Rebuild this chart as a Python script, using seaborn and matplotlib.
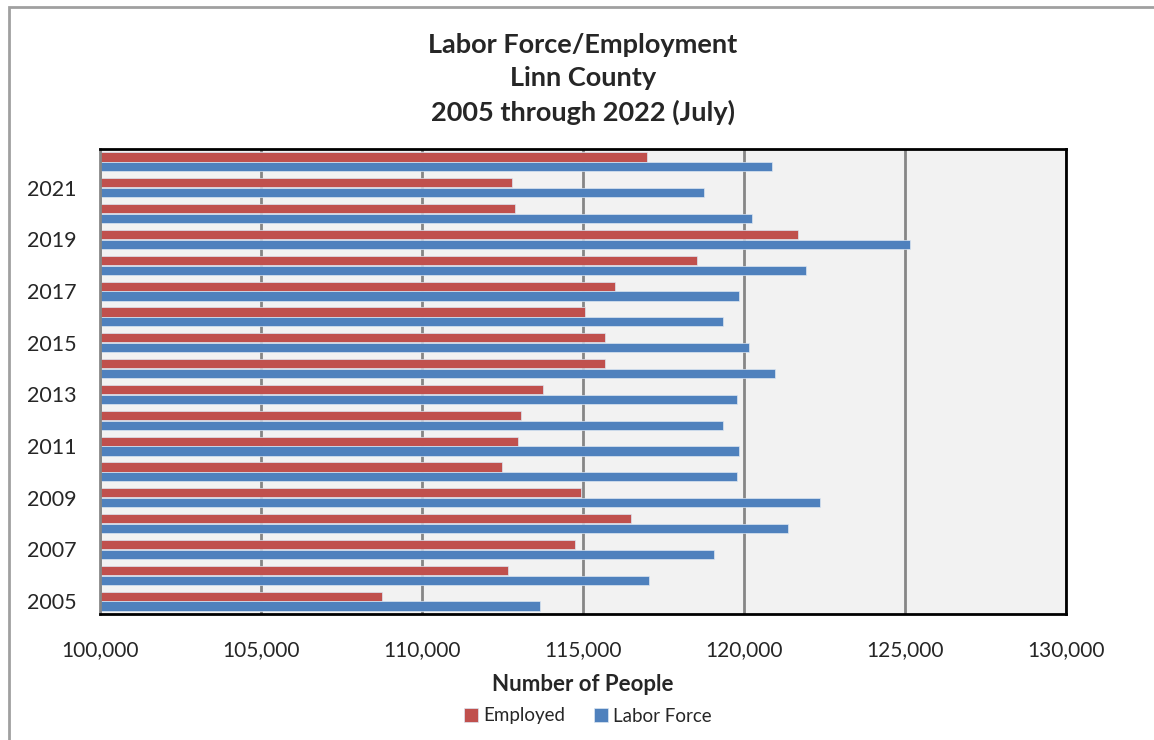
import matplotlib
matplotlib.use("Agg")
import matplotlib.pyplot as plt
import matplotlib.patches as mpatches
import matplotlib.ticker as mticker
import seaborn as sns
import pandas as pd

years = [2005, 2006, 2007, 2008, 2009, 2010, 2011, 2012, 2013,
         2014, 2015, 2016, 2017, 2018, 2019, 2020, 2021, 2022]
employed = [108760, 112660, 114760, 116480, 114950, 112470, 112970, 113080, 113770,
            115680, 115680, 115070, 115990, 118550, 121680, 112880, 112780, 116980]
labor_force = [113650, 117050, 119070, 121370, 122360, 119770, 119840, 119340, 119770,
               120950, 120140, 119340, 119840, 121940, 125150, 120260, 118770, 120870]
series_names = ["Employed", "Labor Force"]
colors = ["#C0504D", "#4F81BD"]
x_ticks = [100000, 105000, 110000, 115000, 120000, 125000, 130000]

df = pd.DataFrame({
    "Year": [str(y) for y in years] * 2,
    "Value": employed + labor_force,
    "Series": [series_names[0]] * len(years) + [series_names[1]] * len(years),
})
order = [str(y) for y in reversed(years)]

sns.set_style("white")
plt.rcParams["font.family"] = ["Lato", "DejaVu Sans"]

fig = plt.figure(figsize=(11.54, 7.4), dpi=100)
ax = fig.add_axes([100/1154, 1-614/740, (1066-100)/1154, (614-149)/740])

sns.barplot(data=df, x="Value", y="Year", hue="Series", order=order,
            hue_order=series_names, palette=colors, orient="h",
            width=0.76, gap=0.06, ax=ax, legend=True,
            edgecolor="#DCE6F2", linewidth=0.5, saturation=1)

ax.set_xlim(100000, 130000)
ax.set_facecolor("#F2F2F2")
ax.set_xticks(x_ticks)
ax.xaxis.set_major_formatter(mticker.FuncFormatter(lambda v, p: f"{int(v):,}"))
ax.tick_params(axis="x", length=0, pad=19, labelsize=15)
ax.tick_params(axis="y", length=0, pad=17, labelsize=15.5)
labels = [t if int(t) % 2 == 1 else "" for t in order]
ax.set_yticks(range(len(order)))
ax.set_yticklabels(labels)
ax.set_ylabel("")
ax.set_xlabel("Number of People", fontsize=16, fontweight="bold", labelpad=10)
ax.grid(axis="x", color="#868686", linewidth=2)
ax.set_axisbelow(True)
for s in ["top", "right", "bottom"]:
    ax.spines[s].set_color("black")
    ax.spines[s].set_linewidth(2)
    ax.spines[s].set_visible(True)
ax.spines["left"].set_color("#868686")
ax.spines["left"].set_linewidth(2)
ax.spines["left"].set_visible(True)

h, l = ax.get_legend_handles_labels()
ax.legend_.remove()
fig.legend(h, l, loc="center", bbox_to_anchor=(588/1154, 1-716/740), ncol=2,
           frameon=False, fontsize=13.5, handlelength=0.75, handleheight=0.75,
           handletextpad=0.3, columnspacing=1.5)

fig.text(583/1154, 1-79/740, "Labor Force/Employment\nLinn County\n2005 through 2022 (July)",
         ha="center", va="center", fontsize=19.5, fontweight="bold", linespacing=1.45)

fig.patches.append(mpatches.Rectangle((9/1154, -0.05), 1.1, 1-7/740+0.05,
                                      transform=fig.transFigure, fill=False,
                                      edgecolor="#A0A0A0", linewidth=2))

fig.savefig("out.png", dpi=100, facecolor="white")
